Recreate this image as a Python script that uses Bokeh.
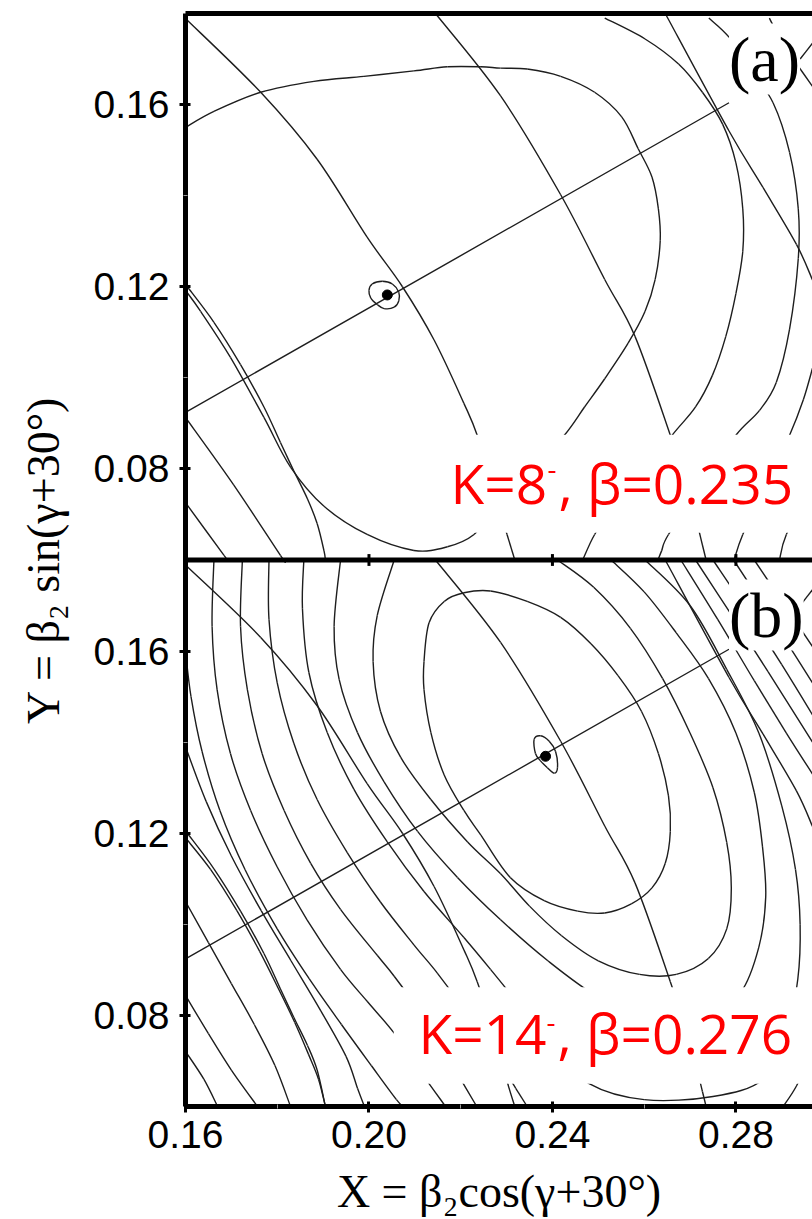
from bokeh.plotting import figure
from bokeh.models import (Range1d, LinearAxis, FixedTicker, CustomJSTickFormatter,
                          BoxAnnotation, Label, Span, ColumnDataSource)
from bokeh.embed import file_html
from bokeh.resources import INLINE

# ---------------- axes ----------------
X_RANGE = (0.16, 0.2967)
Y_RANGE = (0.06, 0.18)
X_TICKS = [0.16, 0.20, 0.24, 0.28]
X_MINOR = [0.18, 0.22, 0.26]
Y_TICKS = [0.08, 0.12, 0.16]
Y_MINOR = [0.10, 0.14]
SHIFT = 0.12  # panel (a) sits on top of panel (b) in one frame

# ---------------- panel (a): K=8-, beta=0.235 ----------------
A_MIN_X, A_MIN_Y = [0.2040], [0.1182]
A_LOOP_X = [0.2000, 0.2007, 0.2029, 0.2051, 0.2065, 0.2065, 0.2055, 0.2033, 0.2018, 0.2004, 0.2000]
A_LOOP_Y = [0.1192, 0.1206, 0.1212, 0.1206, 0.1188, 0.1169, 0.1155, 0.1152, 0.1161, 0.1175, 0.1192]
A_GAM_X = [0.160, 0.2785]
A_GAM_Y = [0.0924, 0.1604]
A_B20_X = [0.1604, 0.1662, 0.1720, 0.1771, 0.1807, 0.1836, 0.1866, 0.1887, 0.1902, 0.1905]
A_B20_Y = [0.1200, 0.1122, 0.1029, 0.0936, 0.0858, 0.0796, 0.0734, 0.0680, 0.0620, 0.0600]
A_B24_X = [0.1600, 0.1764, 0.1887, 0.1996, 0.2073, 0.2142, 0.2207, 0.2236, 0.2270, 0.2301, 0.2318]
A_B24_Y = [0.1789, 0.1627, 0.1480, 0.1309, 0.1200, 0.1083, 0.0944, 0.0874, 0.0760, 0.0656, 0.0600]
A_B28_X = [0.2145, 0.2287, 0.2418, 0.2514, 0.2580, 0.2657, 0.2700, 0.2727, 0.2735]
A_B28_Y = [0.1800, 0.1619, 0.1402, 0.1216, 0.1091, 0.0874, 0.0740, 0.0633, 0.0600]
A_B32_X = [0.2646, 0.2785, 0.2859, 0.2932, 0.2967]
A_B32_Y = [0.1800, 0.1542, 0.1418, 0.1293, 0.1215]
A_C1_X = [0.1600, 0.1662, 0.1764, 0.1880, 0.1989, 0.2098, 0.2171, 0.2244, 0.2287, 0.2345,
          0.2418, 0.2492, 0.2551, 0.2587, 0.2617, 0.2631, 0.2635, 0.2624, 0.2602, 0.2565,
          0.2514, 0.2470, 0.2426, 0.2350, 0.2270, 0.2229, 0.2171, 0.2098, 0.1996, 0.1902,
          0.1829, 0.1771, 0.1698, 0.1633, 0.1600]
A_C1_Y = [0.1550, 0.1585, 0.1627, 0.1651, 0.1662, 0.1674, 0.1683, 0.1683, 0.1680, 0.1678,
          0.1662, 0.1627, 0.1573, 0.1503, 0.1441, 0.1371, 0.1301, 0.1216, 0.1146, 0.1076,
          0.0998, 0.0936, 0.0874, 0.0790, 0.0710, 0.0656, 0.0629, 0.0621, 0.0656, 0.0718,
          0.0804, 0.0913, 0.1045, 0.1146, 0.1192]
A_C2_X = [0.2514, 0.2602, 0.2675, 0.2727, 0.2771, 0.2800, 0.2815, 0.2815, 0.2800, 0.2778,
          0.2749, 0.2712, 0.2661, 0.2600, 0.2530, 0.2492, 0.2466]
A_C2_Y = [0.1790, 0.1744, 0.1689, 0.1627, 0.1557, 0.1472, 0.1371, 0.1278, 0.1185, 0.1091,
          0.1006, 0.0936, 0.0874, 0.0790, 0.0710, 0.0656, 0.0600]
A_C3_X = [0.2741, 0.2785, 0.2830, 0.2881, 0.2917, 0.2936, 0.2936, 0.2917, 0.2888, 0.2851,
          0.2800, 0.2727, 0.2653, 0.2638, 0.2630]
A_C3_Y = [0.1790, 0.1748, 0.1680, 0.1604, 0.1495, 0.1371, 0.1262, 0.1107, 0.0990, 0.0928,
          0.0874, 0.0765, 0.0656, 0.0620, 0.0600]
A_C4_X = [0.2873, 0.2903, 0.2932, 0.2967]
A_C4_Y = [0.1790, 0.1732, 0.1690, 0.1640]
A_C4B_X = [0.2967, 0.2940]
A_C4B_Y = [0.1735, 0.1700]
A_C5_X = [0.2967, 0.2947, 0.2917, 0.2866, 0.2815, 0.2796]
A_C5_Y = [0.1021, 0.0952, 0.0874, 0.0765, 0.0656, 0.0600]
A_C6_X = [0.2967, 0.2910, 0.2895]
A_C6_Y = [0.0770, 0.0656, 0.0600]
A_L1_X = [0.1600, 0.1705, 0.1807, 0.1815]
A_L1_Y = [0.0913, 0.0765, 0.0610, 0.0600]
A_L2_X = [0.1600, 0.1684, 0.1692]
A_L2_Y = [0.0726, 0.0610, 0.0600]

# ---------------- panel (b): K=14-, beta=0.276 ----------------
B_MIN_X, B_MIN_Y = [0.2385], [0.1369]
B_LOOP_X = [0.2360, 0.2374, 0.2393, 0.2407, 0.2411, 0.2404, 0.2389, 0.2374, 0.2363, 0.2360]
B_LOOP_Y = [0.1406, 0.1414, 0.1402, 0.1379, 0.1344, 0.1332, 0.1344, 0.1359, 0.1375, 0.1406]
B_GAM_X = [0.160, 0.2785]
B_GAM_Y = [0.0924, 0.1604]
B_B20_X = [0.1604, 0.1662, 0.1720, 0.1771, 0.1807, 0.1836, 0.1866, 0.1887, 0.1905]
B_B20_Y = [0.1200, 0.1122, 0.1029, 0.0936, 0.0858, 0.0796, 0.0734, 0.0680, 0.0600]
B_B24_X = [0.1600, 0.1764, 0.1887, 0.1996, 0.2073, 0.2142, 0.2207, 0.2236, 0.2280, 0.2301, 0.2318]
B_B24_Y = [0.1789, 0.1630, 0.1480, 0.1309, 0.1200, 0.1083, 0.0944, 0.0874, 0.0740, 0.0656, 0.0600]
B_B28_X = [0.2145, 0.2287, 0.2418, 0.2514, 0.2580, 0.2657, 0.2700, 0.2727, 0.2735]
B_B28_Y = [0.1800, 0.1619, 0.1402, 0.1216, 0.1091, 0.0874, 0.0740, 0.0633, 0.0600]
B_B32_X = [0.2646, 0.2785, 0.2859, 0.2932, 0.2967]
B_B32_Y = [0.1800, 0.1542, 0.1418, 0.1293, 0.1215]
B_E1_X = [0.2120, 0.2131, 0.2164, 0.2207, 0.2265, 0.2345, 0.2418, 0.2484, 0.2543, 0.2594,
          0.2631, 0.2653, 0.2657, 0.2646, 0.2617, 0.2572, 0.2514, 0.2455, 0.2382, 0.2308,
          0.2244, 0.2207, 0.2164, 0.2135, 0.2120, 0.2120]
B_E1_Y = [0.1577, 0.1662, 0.1709, 0.1728, 0.1732, 0.1709, 0.1674, 0.1616, 0.1546, 0.1468,
          0.1375, 0.1282, 0.1204, 0.1134, 0.1080, 0.1045, 0.1025, 0.1029, 0.1052, 0.1103,
          0.1196, 0.1250, 0.1328, 0.1421, 0.1515, 0.1577]
B_E2_X = [0.2055, 0.2018, 0.2009, 0.2025, 0.2069, 0.2135, 0.2215, 0.2287, 0.2350, 0.2420,
          0.2500, 0.2590, 0.2670, 0.2740, 0.2780, 0.2790, 0.2780, 0.2750, 0.2700, 0.2640,
          0.2570, 0.2490, 0.2411]
B_E2_Y = [0.1800, 0.1678, 0.1577, 0.1468, 0.1367, 0.1274, 0.1181, 0.1111, 0.1040, 0.0975,
          0.0920, 0.0890, 0.0890, 0.0925, 0.0990, 0.1080, 0.1180, 0.1300, 0.1420, 0.1540,
          0.1650, 0.1740, 0.1800]
B_E3_X = [0.1938, 0.1924, 0.1935, 0.1975, 0.2033, 0.2106, 0.2193, 0.2287, 0.2390, 0.2500,
          0.2620, 0.2730, 0.2810, 0.2850, 0.2865, 0.2858, 0.2840, 0.2800, 0.2740, 0.2670,
          0.2600, 0.2528]
B_E3_Y = [0.1800, 0.1654, 0.1538, 0.1421, 0.1313, 0.1204, 0.1103, 0.1010, 0.0920, 0.0840,
          0.0785, 0.0790, 0.0850, 0.0950, 0.1060, 0.1170, 0.1290, 0.1420, 0.1540, 0.1640,
          0.1730, 0.1800]
B_E4_X = [0.1858, 0.1855, 0.1869, 0.1909, 0.1967, 0.2040, 0.2120, 0.2207, 0.2265, 0.2330,
          0.2400, 0.2480, 0.2600, 0.2750, 0.2860, 0.2910, 0.2935, 0.2940, 0.2930, 0.2900,
          0.2850, 0.2780, 0.2700, 0.2602]
B_E4_Y = [0.1800, 0.1693, 0.1553, 0.1421, 0.1297, 0.1181, 0.1072, 0.0971, 0.0901, 0.0820,
          0.0730, 0.0650, 0.0615, 0.0622, 0.0660, 0.0760, 0.0880, 0.1000, 0.1120, 0.1260,
          0.1420, 0.1560, 0.1700, 0.1800]
B_E5_X = [0.1782, 0.1782, 0.1800, 0.1836, 0.1887, 0.1953, 0.2025, 0.2098, 0.2149, 0.2210,
          0.2270, 0.2320, 0.2345]
B_E5_Y = [0.1800, 0.1670, 0.1530, 0.1398, 0.1274, 0.1157, 0.1049, 0.0955, 0.0893, 0.0810,
          0.0720, 0.0640, 0.0600]
B_E5R_X = [0.2680, 0.2760, 0.2840, 0.2910, 0.2967]
B_E5R_Y = [0.1800, 0.1670, 0.1535, 0.1420, 0.1330]
B_E5L_X = [0.2903, 0.2932, 0.2967]
B_E5L_Y = [0.0600, 0.0645, 0.0720]
B_E6_X = [0.1724, 0.1720, 0.1735, 0.1767, 0.1815, 0.1873, 0.1938, 0.2018, 0.2055, 0.2110,
          0.2160, 0.2200, 0.2235]
B_E6_Y = [0.1800, 0.1654, 0.1515, 0.1375, 0.1250, 0.1134, 0.1033, 0.0932, 0.0886, 0.0810,
          0.0730, 0.0660, 0.0600]
B_E6R_X = [0.2712, 0.2790, 0.2870, 0.2967]
B_E6R_Y = [0.1800, 0.1680, 0.1555, 0.1400]
B_E7_X = [0.1662, 0.1658, 0.1669, 0.1698, 0.1742, 0.1800, 0.1865, 0.1938, 0.1996, 0.2055,
          0.2110, 0.2167]
B_E7_Y = [0.1800, 0.1654, 0.1515, 0.1375, 0.1250, 0.1126, 0.1010, 0.0901, 0.0831, 0.0761,
          0.0680, 0.0600]
B_E7R_X = [0.2750, 0.2830, 0.2900, 0.2967]
B_E7R_Y = [0.1800, 0.1680, 0.1570, 0.1460]
B_E8_X = [0.1600, 0.1612, 0.1636, 0.1675, 0.1730, 0.1800, 0.1870, 0.1940, 0.2005, 0.2060, 0.2075]
B_E8_Y = [0.1600, 0.1500, 0.1380, 0.1250, 0.1120, 0.0990, 0.0880, 0.0780, 0.0690, 0.0615, 0.0600]
B_E8R_X = [0.2795, 0.2860, 0.2920, 0.2967]
B_E8R_Y = [0.1800, 0.1700, 0.1605, 0.1530]
B_E9_X = [0.1600, 0.1645, 0.1700, 0.1765, 0.1830, 0.1895, 0.1950, 0.1975, 0.1990]
B_E9_Y = [0.1390, 0.1270, 0.1150, 0.1030, 0.0920, 0.0810, 0.0710, 0.0640, 0.0600]
B_E9R_X = [0.2840, 0.2900, 0.2967]
B_E9R_Y = [0.1800, 0.1710, 0.1610]
B_E10_X = [0.1600, 0.1655, 0.1712, 0.1762, 0.1802, 0.1838, 0.1868, 0.1890, 0.1905]
B_E10_Y = [0.1190, 0.1120, 0.1030, 0.0940, 0.0860, 0.0785, 0.0715, 0.0660, 0.0600]
B_E11_X = [0.1600, 0.1650, 0.1700, 0.1750, 0.1795, 0.1829]
B_E11_Y = [0.1050, 0.0960, 0.0870, 0.0780, 0.0690, 0.0600]
B_E12_X = [0.1600, 0.1650, 0.1700, 0.1757]
B_E12_Y = [0.0844, 0.0760, 0.0680, 0.0600]
B_E13_X = [0.1600, 0.1640, 0.1670]
B_E13_Y = [0.0721, 0.0660, 0.0600]
B_E10B_X = [0.2967, 0.2940]
B_E10B_Y = [0.1735, 0.1700]

A_CURVES = [(A_LOOP_X, A_LOOP_Y), (A_GAM_X, A_GAM_Y), (A_B20_X, A_B20_Y), (A_B24_X, A_B24_Y),
            (A_B28_X, A_B28_Y), (A_B32_X, A_B32_Y), (A_C1_X, A_C1_Y), (A_C2_X, A_C2_Y),
            (A_C3_X, A_C3_Y), (A_C4_X, A_C4_Y), (A_C4B_X, A_C4B_Y), (A_C5_X, A_C5_Y),
            (A_C6_X, A_C6_Y), (A_L1_X, A_L1_Y), (A_L2_X, A_L2_Y)]
B_CURVES = [(B_LOOP_X, B_LOOP_Y), (B_GAM_X, B_GAM_Y), (B_B20_X, B_B20_Y), (B_B24_X, B_B24_Y),
            (B_B28_X, B_B28_Y), (B_B32_X, B_B32_Y), (B_E1_X, B_E1_Y), (B_E2_X, B_E2_Y),
            (B_E3_X, B_E3_Y), (B_E4_X, B_E4_Y), (B_E5_X, B_E5_Y), (B_E5R_X, B_E5R_Y),
            (B_E5L_X, B_E5L_Y), (B_E6_X, B_E6_Y), (B_E6R_X, B_E6R_Y), (B_E7_X, B_E7_Y),
            (B_E7R_X, B_E7R_Y), (B_E8_X, B_E8_Y), (B_E8R_X, B_E8R_Y), (B_E9_X, B_E9_Y),
            (B_E9R_X, B_E9R_Y), (B_E10_X, B_E10_Y), (B_E11_X, B_E11_Y), (B_E12_X, B_E12_Y),
            (B_E13_X, B_E13_Y), (B_E10B_X, B_E10B_Y)]


def bezier_pieces(curves, dy=0.0):
    """Smooth cubic pieces through the traced vertices of each curve."""
    out = {k: [] for k in ("x0", "y0", "x1", "y1", "cx0", "cy0", "cx1", "cy1")}
    for xs, ys in curves:
        pts = [(x, y + dy) for x, y in zip(xs, ys)]
        n = len(pts)
        closed = n > 3 and pts[0] == pts[-1]
        for i in range(n - 1):
            p1, p2 = pts[i], pts[i + 1]
            if i > 0:
                p0 = pts[i - 1]
            else:
                p0 = pts[-2] if closed else pts[0]
            if i + 2 < n:
                p3 = pts[i + 2]
            else:
                p3 = pts[1] if closed else pts[-1]
            out["x0"].append(p1[0]); out["y0"].append(p1[1])
            out["x1"].append(p2[0]); out["y1"].append(p2[1])
            out["cx0"].append(p1[0] + (p2[0] - p0[0]) / 6.0)
            out["cy0"].append(p1[1] + (p2[1] - p0[1]) / 6.0)
            out["cx1"].append(p2[0] - (p3[0] - p1[0]) / 6.0)
            out["cy1"].append(p2[1] - (p3[1] - p1[1]) / 6.0)
    return ColumnDataSource(out)


# ---------------- figure ----------------
p = figure(width=812, height=1219, output_backend="svg", toolbar_location=None,
           x_range=Range1d(*X_RANGE), y_range=Range1d(Y_RANGE[0], Y_RANGE[1] + SHIFT),
           x_axis_type=None, y_axis_type=None,
           min_border_left=185, min_border_right=0, min_border_top=13, min_border_bottom=113)
p.outline_line_color = None
p.background_fill_color = "white"
p.border_fill_color = "white"
p.grid.visible = False

TICK_FONT = "Liberation Sans"
LABEL_FONT = "Liberation Serif"


def style_axis(ax):
    ax.axis_line_width = 5
    ax.axis_line_color = "black"
    ax.major_tick_line_width = 3
    ax.major_tick_line_color = "black"
    ax.major_tick_in = 5
    ax.major_tick_out = 6
    ax.minor_tick_line_width = 1
    ax.minor_tick_line_color = "#999999"
    ax.minor_tick_in = 2
    ax.minor_tick_out = 2
    ax.major_label_text_font = TICK_FONT
    ax.major_label_text_font_size = "39px"
    ax.major_label_text_color = "black"
    ax.axis_label_text_font = LABEL_FONT
    ax.axis_label_text_font_style = "normal"
    ax.axis_label_text_font_size = "46px"
    ax.axis_label_text_color = "black"


y_ticks = Y_TICKS + [round(t + SHIFT, 4) for t in Y_TICKS]
y_minor = Y_MINOR + [round(t + SHIFT, 4) for t in Y_MINOR]
yaxis = LinearAxis(ticker=FixedTicker(ticks=y_ticks, minor_ticks=y_minor),
                   formatter=CustomJSTickFormatter(
                       args=dict(top=Y_RANGE[1], shift=SHIFT),
                       code="return (tick > top + 1e-6 ? tick - shift : tick).toFixed(2);"),
                   axis_label="Y = β₂ sin(γ+30°)")
style_axis(yaxis)
yaxis.major_label_standoff = 10
yaxis.axis_label_standoff = 22
p.add_layout(yaxis, "left")

xaxis = LinearAxis(ticker=FixedTicker(ticks=X_TICKS, minor_ticks=X_MINOR),
                   formatter=CustomJSTickFormatter(code="return tick.toFixed(2);"),
                   axis_label="X = β₂cos(γ+30°)")
style_axis(xaxis)
xaxis.major_label_standoff = 8
xaxis.axis_label_standoff = 15
p.add_layout(xaxis, "below")

top_axis = LinearAxis(ticker=FixedTicker(ticks=[]))
style_axis(top_axis)
top_axis.major_tick_line_color = None
top_axis.minor_tick_line_color = None
top_axis.major_label_text_font_size = "0px"
top_axis.major_label_standoff = 0
p.add_layout(top_axis, "above")

# ---------------- contours ----------------
LINE = dict(line_color="#1e1e1e", line_width=1.4)
p.bezier(x0="x0", y0="y0", x1="x1", y1="y1", cx0="cx0", cy0="cy0", cx1="cx1", cy1="cy1",
         source=bezier_pieces(B_CURVES), **LINE)
p.bezier(x0="x0", y0="y0", x1="x1", y1="y1", cx0="cx0", cy0="cy0", cx1="cx1", cy1="cy1",
         source=bezier_pieces(A_CURVES, SHIFT), **LINE)
p.scatter(B_MIN_X, B_MIN_Y, size=10, color="black")
p.scatter(A_MIN_X, [v + SHIFT for v in A_MIN_Y], size=10, color="black")

# boundary between the two panels, with the x ticks on it
p.add_layout(Span(location=Y_RANGE[1], dimension="width", line_width=5, line_color="black"))
half = 0.0013
p.segment(x0=X_TICKS[1:], x1=X_TICKS[1:], y0=[Y_RANGE[1] - half] * 3,
          y1=[Y_RANGE[1] + half] * 3, line_width=3, line_color="black")

# ---------------- annotations ----------------
p.add_layout(BoxAnnotation(left=0.2156, right=0.31, bottom=0.0660 + SHIFT, top=0.0875 + SHIFT,
                           fill_color="white", fill_alpha=1.0, line_color=None))
p.add_layout(BoxAnnotation(left=0.2054, right=0.31, bottom=0.0650, top=0.0862,
                           fill_color="white", fill_alpha=1.0, line_color=None))

RED = dict(text_color="#ff0000", text_font="Open Sans", text_font_size="55px",
           text_baseline="middle", text_align="left")
SUP = dict(text_color="#ff0000", text_font="Open Sans", text_font_size="28px",
           text_baseline="middle", text_align="left")
p.add_layout(Label(x=0.2178, y=0.1970, text="K=8", **RED))
p.add_layout(Label(x=0.2389, y=0.2000, text="-", **SUP))
p.add_layout(Label(x=0.2413, y=0.1970, text=", β=0.235", **RED))

p.add_layout(Label(x=0.2108, y=0.0762, text="K=14", **RED))
p.add_layout(Label(x=0.2387, y=0.0786, text="-", **SUP))
p.add_layout(Label(x=0.2411, y=0.0762, text=", β=0.276", **RED))

PANEL = dict(text_font=LABEL_FONT, text_font_size="64px", text_color="black",
             background_fill_color="white", text_baseline="middle", text_align="left")
p.add_layout(Label(x=0.2785, y=0.2900, text="(a)", **PANEL))
p.add_layout(Label(x=0.2785, y=0.1679, text="(b)", **PANEL))

open("out.html", "w").write(file_html(p, INLINE))
